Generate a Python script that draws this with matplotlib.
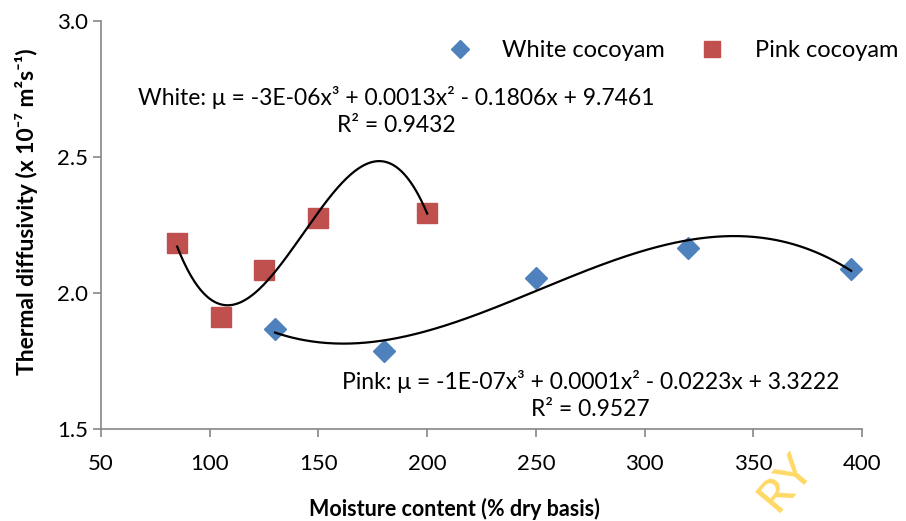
import numpy as np
import matplotlib
matplotlib.use('Agg')
import matplotlib.pyplot as plt

plt.rcParams['font.family'] = ['Lato', 'DejaVu Sans']

# Data
white_x = [130, 180, 250, 320, 395]
white_y = [1.868, 1.787, 2.055, 2.165, 2.088]
pink_x = [85, 105, 125, 150, 200]
pink_y = [2.184, 1.912, 2.085, 2.276, 2.294]

white_eq = 'White: μ = -3E-06x³ + 0.0013x² - 0.1806x + 9.7461\nR² = 0.9432'
pink_eq = 'Pink: μ = -1E-07x³ + 0.0001x² - 0.0223x + 3.3222\nR² = 0.9527'

blue = '#4F81BD'
red = '#C0504D'
gray = '#868686'

fig = plt.figure(figsize=(9.06, 5.21), dpi=100)
ax = fig.add_axes([0.1115, 0.1766, 0.84, 0.7831])

ax.plot(white_x, white_y, 'D', color=blue, ms=11, mec=blue, label='White cocoyam', zorder=2)
ax.plot(pink_x, pink_y, 's', color=red, ms=14, mec=red, label='Pink cocoyam', zorder=2)

# cubic trend lines
for xs, ys in [(white_x, white_y), (pink_x, pink_y)]:
    coef = np.polyfit(xs, ys, 3)
    xx = np.linspace(min(xs), max(xs), 300)
    ax.plot(xx, np.polyval(coef, xx), color='black', lw=1.6, zorder=3)

ax.set_xlim(50, 400)
ax.set_ylim(1.5, 3.0)
ax.set_xticks(np.arange(50, 401, 50))
ax.set_yticks([1.5, 2.0, 2.5, 3.0])
ax.set_yticklabels(['1.5', '2.0', '2.5', '3.0'])

for s in ['top', 'right']:
    ax.spines[s].set_visible(False)
for s in ['left', 'bottom']:
    ax.spines[s].set_color(gray)
    ax.spines[s].set_linewidth(1.2)
ax.tick_params(colors=gray, labelcolor='black', labelsize=16, length=6, width=1.2, direction='out')
ax.tick_params(axis='x', pad=12)

ax.set_xlabel('Moisture content (% dry basis)', fontsize=15.5, fontweight='bold')
ax.set_ylabel('Thermal diffusivity (x 10⁻⁷ m²s⁻¹)', fontsize=16.5, fontweight='bold')
ax.xaxis.set_label_coords(0.465, -0.169)
ax.yaxis.set_label_coords(-0.083, 0.532)

ax.text(186, 2.669, white_eq, fontsize=16.5, ha='center', va='center', linespacing=1.4)
ax.text(275, 1.625, pink_eq, fontsize=16.5, ha='center', va='center', linespacing=1.4)

ax.legend(loc='upper right', bbox_to_anchor=(1.075, 1.005), ncol=2, frameon=False, fontsize=17,
          handletextpad=0.8, columnspacing=1.0, numpoints=1, markerscale=0.85)

fig.text(0.868, 0.075, 'RY', rotation=50, color='#FFD966', fontsize=34, fontweight='medium',
         ha='center', va='center', zorder=0)

fig.savefig('out.png', dpi=100)
